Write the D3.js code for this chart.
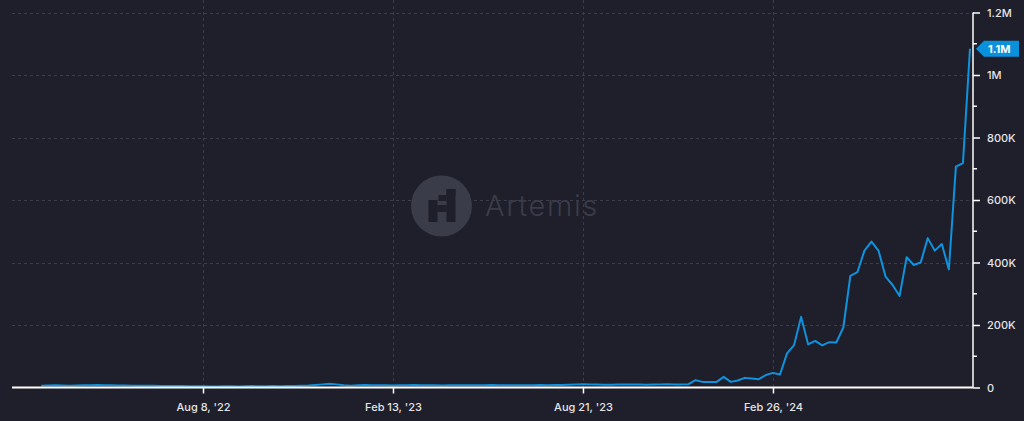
<!DOCTYPE html>
<html>
<head>
<meta charset="utf-8">
<script src="https://cdn.jsdelivr.net/npm/d3@7"></script>
<style>
html,body{margin:0;padding:0;background:#1e1f2a;}
svg{display:block;}
text{font-family:Inter,"Noto Sans",sans-serif;}
</style>
</head>
<body>
<svg id="chart" width="1024" height="421"></svg>
<script>
// ---- data ----
const startDate = "2022-02-28"; // first weekly point (Mondays)
const values = [
  6,6.5,7,6.5,6,6.5,7,7.5,8,7.5,7,6.5,6.5,6,6,5.5,5.5,5,5,4.5,4.5,4,4,4,
  3.5,3.5,4,4,3.5,4,4.5,4,4,4.5,4,4.5,5,5.5,6.5,8,10,
  12,10,7,6,7,8,7.5,7,7,6.5,7,7.5,8,7.5,7,7,6.5,7,7,7.5,
  7,7,7.5,8,7.5,7,7,7.5,7,7.5,8,7.5,8,8,9,10,10.5,10,9.5,9,9,9.5,10,10,9.5,9,9.5,10,10.5,10,10,
  10.6,23.4,18,18,18,34,18,22.4,30.8,29,26.6,40,46.8,
  41.7,109,135.6,226,138,149,135,145,144,192,357,369,438,467,438,355,328,293,417,392,400,478,438,459,378,707,718,1084
].map(v => v * 1000);
const xTickDates = ["2022-08-08","2023-02-13","2023-08-21","2024-02-26"];
const yTickValues = [0,200000,400000,600000,800000,1000000,1200000];
const yTickLabels = ["0","200K","400K","600K","800K","1M","1.2M"];
const yMinorTicks = [100000,300000,500000,700000,900000,1100000];
const lastLabel = "1.1M";

(function(){
const parse = d3.timeParse("%Y-%m-%d");
const fmtX = d3.timeFormat("%b %-d, '%y");
const start = parse(startDate);
const data = values.map((v,i) => ({date: d3.timeWeek.offset(start, i), value: v}));

const svg = d3.select("#chart");
const W = 1024, H = 421;
const mLeft = 12, mRight = 973, mTop = 12.5, mBottom = 387.5;

const x = d3.scaleTime()
  .domain([parse("2022-01-30"), parse("2024-09-12")])
  .range([mLeft, mRight]);
const y = d3.scaleLinear().domain([0, 1200000]).range([mBottom, mTop]);

svg.append("rect").attr("width", W).attr("height", H).attr("fill", "#1e1f2a");

const gridColor = "#3b3d4b";
svg.append("g").selectAll("line").data(xTickDates.map(parse)).join("line")
  .attr("x1", d => Math.round(x(d)) + 0.5).attr("x2", d => Math.round(x(d)) + 0.5)
  .attr("y1", 0).attr("y2", mBottom)
  .attr("stroke", gridColor).attr("stroke-width", 1).attr("stroke-dasharray", "3,3");
svg.append("g").selectAll("line").data(yTickValues.slice(1)).join("line")
  .attr("x1", mLeft).attr("x2", mRight)
  .attr("y1", d => Math.round(y(d)) + 0.5).attr("y2", d => Math.round(y(d)) + 0.5)
  .attr("stroke", gridColor).attr("stroke-width", 1).attr("stroke-dasharray", "3,3");

// watermark
const wm = svg.append("g").attr("transform", "translate(441.5,206)");
const wmColor = "#3b3c49";
wm.append("circle").attr("r", 30.5).attr("fill", wmColor);
const glyph = [
  [5,-17,9,7],
  [-3,-11,8,6],
  [-13,-6,9,22],
  [5,-17,9,33],
  [-4,-1,9,7]
];
wm.selectAll("rect.g").data(glyph).join("rect")
  .attr("x", d => d[0]).attr("y", d => d[1]).attr("width", d => d[2]).attr("height", d => d[3])
  .attr("fill", "#1e1f2a");
svg.append("text").attr("x", 485).attr("y", 216).text("Artemis")
  .attr("fill", wmColor).attr("font-size", 29).attr("font-weight", 300)
  .attr("letter-spacing", 1.6);

// line
const line = d3.line().x(d => x(d.date)).y(d => y(d.value)).curve(d3.curveLinear);
svg.append("path").datum(data).attr("d", line)
  .attr("fill", "none").attr("stroke", "#0f93de").attr("stroke-width", 2)
  .attr("stroke-linejoin", "round");

// x axis
const xAxis = d3.axisBottom(x)
  .tickValues(xTickDates.map(parse))
  .tickFormat(fmtX).tickSize(6).tickPadding(10);
const gx = svg.append("g").attr("transform", `translate(0,${mBottom})`).call(xAxis);
gx.select(".domain").attr("stroke", "#ffffff").attr("stroke-width", 2)
  .attr("d", `M${mLeft},0H${mRight}`);
gx.selectAll(".tick line").attr("stroke", "#ffffff").attr("stroke-width", 1.5);
gx.selectAll(".tick text").attr("fill", "#e4e4e8").attr("font-size", 11)
  .attr("font-weight", 500).attr("font-family", "Inter, sans-serif");

// y axis (right)
const yAxis = d3.axisRight(y)
  .tickValues(yTickValues)
  .tickFormat((d,i) => yTickLabels[i]).tickSize(7).tickPadding(7);
const gy = svg.append("g").attr("transform", `translate(${mRight},0)`).call(yAxis);
gy.select(".domain").attr("stroke", "#ffffff").attr("stroke-width", 1.5)
  .attr("d", `M0,${mTop}V${mBottom}`);
gy.selectAll(".tick line").attr("stroke", "#ffffff").attr("stroke-width", 1.5);
gy.selectAll(".tick text").attr("fill", "#e4e4e8").attr("font-size", 11)
  .attr("font-weight", 500).attr("font-family", "Inter, sans-serif");
gy.append("g").selectAll("line").data(yMinorTicks).join("line")
  .attr("x1", 0).attr("x2", 4)
  .attr("y1", d => y(d)).attr("y2", d => y(d))
  .attr("stroke", "#ffffff").attr("stroke-width", 1.5);

// last value label
const last = data[data.length - 1];
const ly = y(last.value);
const lab = svg.append("g").attr("transform", `translate(976,${ly})`);
lab.append("path").attr("d", "M0,0 L8,-8 H43 V8 H8 Z").attr("fill", "#0b90dc");
lab.append("text").attr("x", 12).attr("y", 0).attr("dy", "0.35em")
  .text(lastLabel).attr("fill", "#ffffff").attr("font-size", 11).attr("font-weight", 700);
})();
</script>
</body>
</html>
